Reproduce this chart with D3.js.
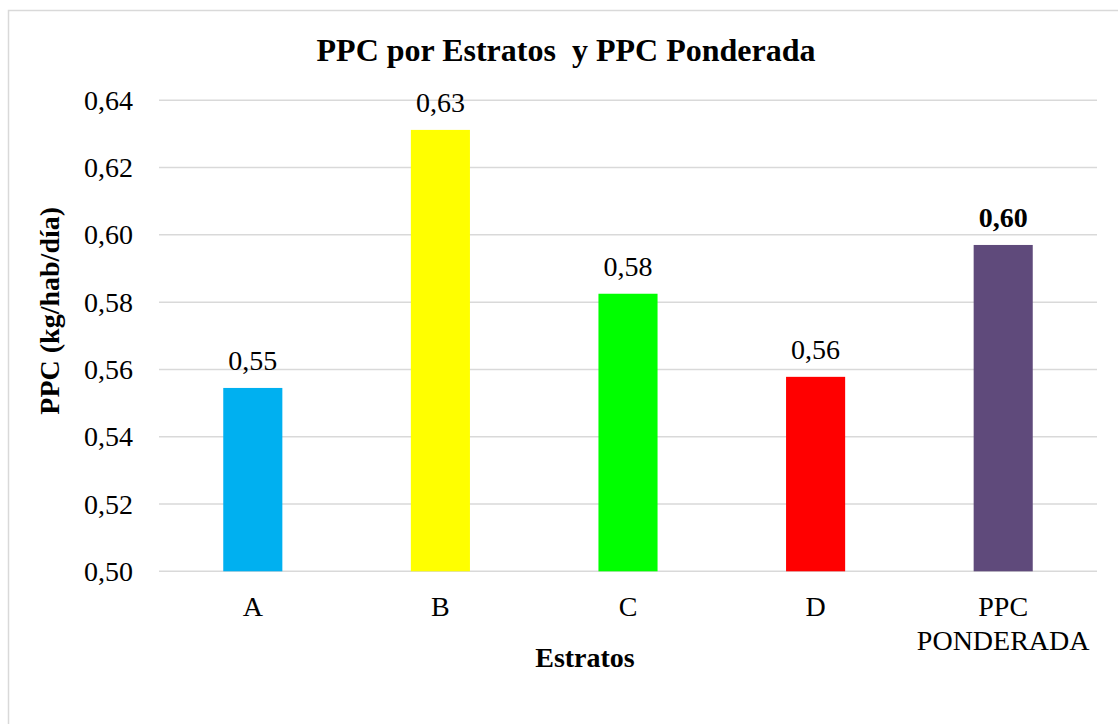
<!DOCTYPE html>
<html>
<head>
<meta charset="utf-8">
<script src="https://cdn.jsdelivr.net/npm/d3@7"></script>
<style>
  body { margin: 0; background: #fff; }
  text { font-family: "Liberation Serif", "Times New Roman", serif; fill: #000; }
</style>
</head>
<body>
<svg id="chart" width="1118" height="724"></svg>
<script>
// data
const categories = ["A", "B", "C", "D", "PPC PONDERADA"];
const values = [0.5545, 0.6312, 0.5825, 0.5578, 0.5970];
const labels = ["0,55", "0,63", "0,58", "0,56", "0,60"];
const colors = ["#00B0F0", "#FFFF00", "#00FF00", "#FF0000", "#5F4A7B"];
const yTicks = [0.50, 0.52, 0.54, 0.56, 0.58, 0.60, 0.62, 0.64];

const svg = d3.select("#chart");

// chart area border
svg.append("rect")
    .attr("x", 8.5).attr("y", 10.5)
    .attr("width", 1140).attr("height", 760)
    .attr("fill", "none")
    .attr("stroke", "#D9D9D9")
    .attr("stroke-width", 1.5);

const plotLeft = 159, plotRight = 1097, plotTop = 100.3, plotBottom = 571.3;

const x = d3.scaleBand()
    .domain(categories)
    .range([plotLeft, plotRight])
    .paddingInner(0.685)
    .paddingOuter(0.685 / 2);

const y = d3.scaleLinear()
    .domain([0.50, 0.64])
    .range([plotBottom, plotTop]);

// gridlines
svg.append("g")
    .selectAll("line")
    .data(yTicks)
    .join("line")
    .attr("x1", plotLeft).attr("x2", plotRight)
    .attr("y1", d => y(d)).attr("y2", d => y(d))
    .attr("stroke", "#D9D9D9")
    .attr("stroke-width", 1.5);

// y tick labels
const fmt = d => d3.format(".2f")(d).replace(".", ",");
svg.append("g")
    .selectAll("text")
    .data(yTicks)
    .join("text")
    .attr("x", 133)
    .attr("y", d => y(d) + 9.5)
    .attr("text-anchor", "end")
    .style("font-size", "28px")
    .text(fmt);

// bars
svg.append("g")
    .selectAll("rect")
    .data(values)
    .join("rect")
    .attr("x", (d, i) => x(categories[i]))
    .attr("width", x.bandwidth())
    .attr("y", d => y(d))
    .attr("height", d => y(0.50) - y(d))
    .attr("fill", (d, i) => colors[i]);

// data labels
svg.append("g")
    .selectAll("text")
    .data(values)
    .join("text")
    .attr("x", (d, i) => x(categories[i]) + x.bandwidth() / 2)
    .attr("y", d => y(d) - 17.5)
    .attr("text-anchor", "middle")
    .style("font-size", "28px")
    .style("font-weight", (d, i) => i === 4 ? "bold" : "normal")
    .text((d, i) => labels[i]);

// x category labels
const xl = svg.append("g")
    .selectAll("text")
    .data(categories)
    .join("text")
    .attr("text-anchor", "middle")
    .style("font-size", "28px");
xl.each(function (d) {
    const parts = d === "PPC PONDERADA" ? ["PPC", "PONDERADA"] : [d];
    const cx = x(d) + x.bandwidth() / 2;
    d3.select(this).selectAll("tspan")
        .data(parts)
        .join("tspan")
        .attr("x", cx)
        .attr("y", (p, j) => 616 + j * 34)
        .text(p => p);
});

// title
svg.append("text")
    .attr("x", 566).attr("y", 61)
    .attr("text-anchor", "middle")
    .style("font-size", "32px")
    .style("font-weight", "bold")
    .style("white-space", "pre")
    .text("PPC por Estratos  y PPC Ponderada");

// axis titles
svg.append("text")
    .attr("x", 585).attr("y", 667)
    .attr("text-anchor", "middle")
    .style("font-size", "28px")
    .style("font-weight", "bold")
    .text("Estratos");

svg.append("text")
    .attr("transform", "translate(59," + ((plotTop + plotBottom) / 2 - 25) + ") rotate(-90)")
    .attr("text-anchor", "middle")
    .style("font-size", "28px")
    .style("font-weight", "bold")
    .text("PPC (kg/hab/día)");
</script>
</body>
</html>
